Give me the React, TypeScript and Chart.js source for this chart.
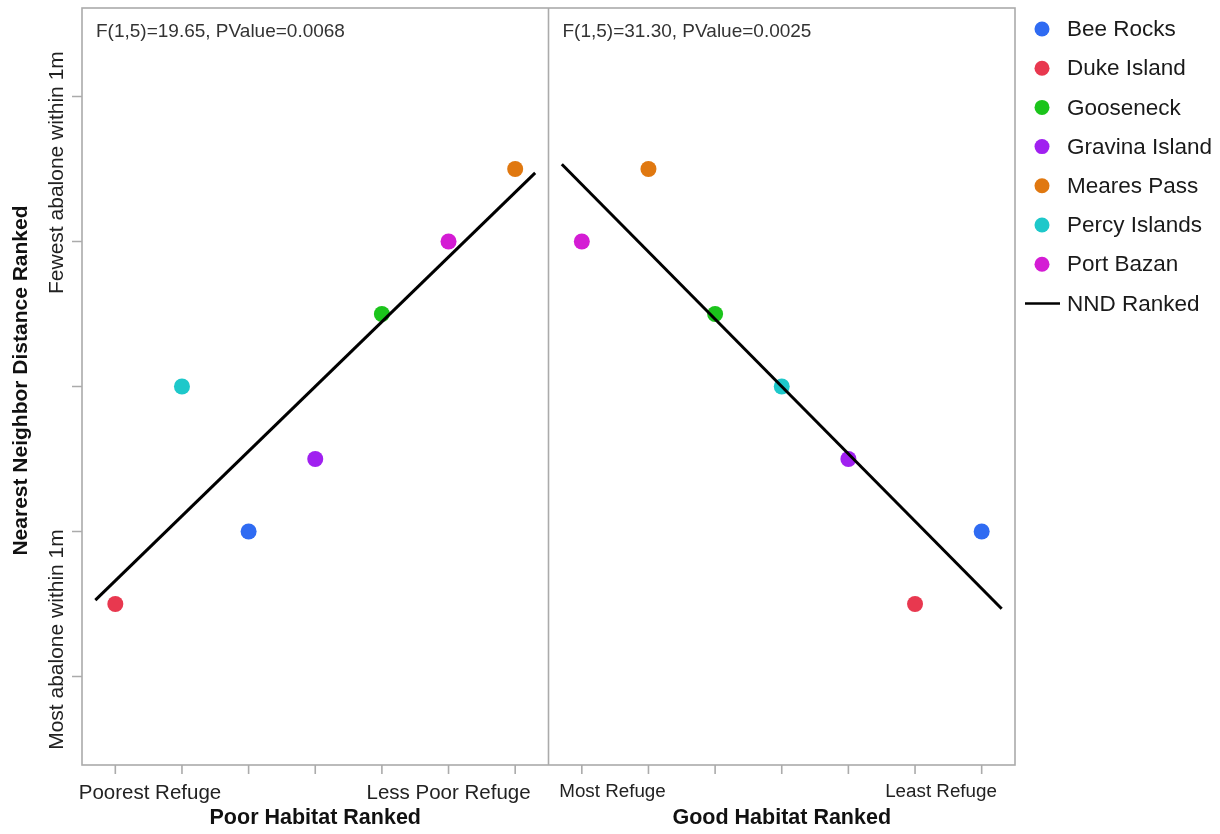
import React, { useEffect, useRef } from 'react';
import { Chart, registerables } from 'chart.js';

Chart.register(...registerables);

// ---- Data ----
const sites = ['Bee Rocks', 'Duke Island', 'Gooseneck', 'Gravina Island', 'Meares Pass', 'Percy Islands', 'Port Bazan'];
const siteColors = ['#2F6BF2', '#E8384F', '#1BC41B', '#A020F0', '#E07810', '#1EC8CA', '#D41CD4'];
const nndRank = [2, 1, 5, 3, 7, 4, 6];
const poorHabitatRank = [3, 1, 5, 4, 7, 2, 6];
const goodHabitatRank = [7, 6, 3, 5, 2, 4, 1];
const rankTicks = [1, 2, 3, 4, 5, 6, 7];
const yTicks = [0, 2, 4, 6, 8];
const poorStats = 'F(1,5)=19.65, PValue=0.0068';
const goodStats = 'F(1,5)=31.30, PValue=0.0025';
const poorTickText = ['Poorest Refuge', 'Less Poor Refuge'];
const goodTickText = ['Most Refuge', 'Least Refuge'];
const yTickText = ['Most abalone within 1m', 'Fewest abalone within 1m'];
const lineLabel = 'NND Ranked';
const fitRange = [0.7, 7.3];

// layout helpers (not data)
const GOOD_OFFSET = 7;
const poorTickAt = [1.52, 6.0];
const goodTickAt = [1.46, 6.39];
const yTickAt = [0.51, 6.95];

const FONT = '"Liberation Sans", Arial, Helvetica, sans-serif';
const FRAME = '#ABABAB';

function fit(xs: number[], ys: number[]) {
  const n = xs.length;
  const mx = xs.reduce((a, b) => a + b, 0) / n;
  const my = ys.reduce((a, b) => a + b, 0) / n;
  let sxy = 0, sxx = 0;
  for (let i = 0; i < n; i++) {
    sxy += (xs[i] - mx) * (ys[i] - my);
    sxx += (xs[i] - mx) * (xs[i] - mx);
  }
  const b = sxy / sxx;
  return (x: number) => my + b * (x - mx);
}

const decorPlugin = {
  id: 'decor',
  beforeDatasetsDraw(chart: any) {
    const { ctx, chartArea: ca, scales } = chart;
    const xs = scales.x, ys = scales.y;
    ctx.save();
    ctx.strokeStyle = FRAME;
    ctx.lineWidth = 1.6;
    ctx.strokeRect(ca.left, ca.top, ca.right - ca.left, ca.bottom - ca.top);
    const mid = xs.getPixelForValue(7.5);
    ctx.beginPath();
    ctx.moveTo(mid, ca.top);
    ctx.lineTo(mid, ca.bottom);
    ctx.stroke();
    ctx.beginPath();
    rankTicks.forEach((r) => {
      [r, r + GOOD_OFFSET].forEach((v) => {
        const px = xs.getPixelForValue(v);
        ctx.moveTo(px, ca.bottom);
        ctx.lineTo(px, ca.bottom + 9);
      });
    });
    yTicks.forEach((v) => {
      const py = ys.getPixelForValue(v);
      ctx.moveTo(ca.left, py);
      ctx.lineTo(ca.left - 10, py);
    });
    ctx.stroke();
    ctx.restore();
  },
  afterDraw(chart: any) {
    const { ctx, chartArea: ca, scales } = chart;
    const xs = scales.x, ys = scales.y;
    ctx.save();
    ctx.fillStyle = '#333333';
    ctx.textBaseline = 'middle';
    // stats
    ctx.textAlign = 'left';
    ctx.font = `19px ${FONT}`;
    ctx.fillText(poorStats, ca.left + 14, ca.top + 24);
    ctx.fillText(goodStats, xs.getPixelForValue(7.5) + 14, ca.top + 24);
    // x tick labels
    ctx.textAlign = 'center';
    ctx.fillStyle = '#222222';
    ctx.font = `20.5px ${FONT}`;
    poorTickText.forEach((t, i) => ctx.fillText(t, xs.getPixelForValue(poorTickAt[i]), ca.bottom + 28));
    ctx.font = `18.8px ${FONT}`;
    goodTickText.forEach((t, i) => ctx.fillText(t, xs.getPixelForValue(goodTickAt[i] + GOOD_OFFSET), ca.bottom + 27));
    // x titles
    ctx.fillStyle = '#111111';
    ctx.font = `bold 21.5px ${FONT}`;
    ctx.fillText('Poor Habitat Ranked', (ca.left + xs.getPixelForValue(7.5)) / 2, ca.bottom + 53);
    ctx.fillText('Good Habitat Ranked', (xs.getPixelForValue(7.5) + ca.right) / 2, ca.bottom + 53);
    // y tick labels rotated
    ctx.fillStyle = '#222222';
    ctx.font = `21px ${FONT}`;
    yTickText.forEach((t, i) => {
      ctx.save();
      ctx.translate(57, ys.getPixelForValue(yTickAt[i]));
      ctx.rotate(-Math.PI / 2);
      ctx.fillText(t, 0, 0);
      ctx.restore();
    });
    // y title
    ctx.fillStyle = '#111111';
    ctx.font = `bold 21px ${FONT}`;
    ctx.save();
    ctx.translate(21, (ca.top + ca.bottom) / 2 - 6);
    ctx.rotate(-Math.PI / 2);
    ctx.fillText('Nearest Neighbor Distance Ranked', 0, 0);
    ctx.restore();
    // legend
    ctx.textAlign = 'left';
    ctx.font = `22.5px ${FONT}`;
    const lx = 1042, tx = 1067, ly0 = 29, dy = 39.2;
    sites.forEach((s, i) => {
      const y = ly0 + i * dy;
      ctx.fillStyle = siteColors[i];
      ctx.beginPath();
      ctx.arc(lx, y, 7.5, 0, Math.PI * 2);
      ctx.fill();
      ctx.fillStyle = '#1a1a1a';
      ctx.fillText(s, tx, y + 1);
    });
    const yl = ly0 + sites.length * dy;
    ctx.strokeStyle = '#000';
    ctx.lineWidth = 2.5;
    ctx.beginPath();
    ctx.moveTo(1025, yl);
    ctx.lineTo(1060, yl);
    ctx.stroke();
    ctx.fillStyle = '#1a1a1a';
    ctx.fillText(lineLabel, tx, yl + 1);
    ctx.restore();
  },
};

export default function App() {
  const ref = useRef<HTMLCanvasElement | null>(null);
  useEffect(() => {
    if (!ref.current) return;
    const fPoor = fit(poorHabitatRank, nndRank);
    const fGood = fit(goodHabitatRank, nndRank);
    const pointSets = sites.map((s, i) => ({
      type: 'scatter' as const,
      label: s,
      data: [
        { x: poorHabitatRank[i], y: nndRank[i] },
        { x: goodHabitatRank[i] + GOOD_OFFSET, y: nndRank[i] },
      ],
      backgroundColor: siteColors[i],
      borderWidth: 0,
      pointRadius: 8,
      showLine: false,
    }));
    const lineSets = [
      {
        type: 'line' as const,
        label: lineLabel,
        data: fitRange.map((x) => ({ x, y: fPoor(x) })),
        borderColor: '#000',
        borderWidth: 3,
        pointRadius: 0,
        fill: false,
      },
      {
        type: 'line' as const,
        label: lineLabel + ' (good)',
        data: fitRange.map((x) => ({ x: x + GOOD_OFFSET, y: fGood(x) })),
        borderColor: '#000',
        borderWidth: 3,
        pointRadius: 0,
        fill: false,
      },
    ];
    const chart = new Chart(ref.current, {
      type: 'scatter',
      data: { datasets: [...lineSets, ...pointSets] as any },
      options: {
        animation: false,
        responsive: false,
        devicePixelRatio: 1,
        layout: { padding: { left: 82, top: 6, right: 205, bottom: 69 } },
        plugins: { legend: { display: false }, tooltip: { enabled: false } },
        scales: {
          x: { type: 'linear', min: 0.5, max: 14.5, display: false },
          y: { type: 'linear', min: -1.22, max: 9.22, display: false },
        },
      },
      plugins: [decorPlugin],
    });
    return () => chart.destroy();
  }, []);
  return (
    <div style={{ position: 'absolute', left: 0, top: 0, width: 1220, height: 834, background: '#fff' }}>
      <canvas ref={ref} width={1220} height={834} style={{ display: 'block' }} />
    </div>
  );
}
